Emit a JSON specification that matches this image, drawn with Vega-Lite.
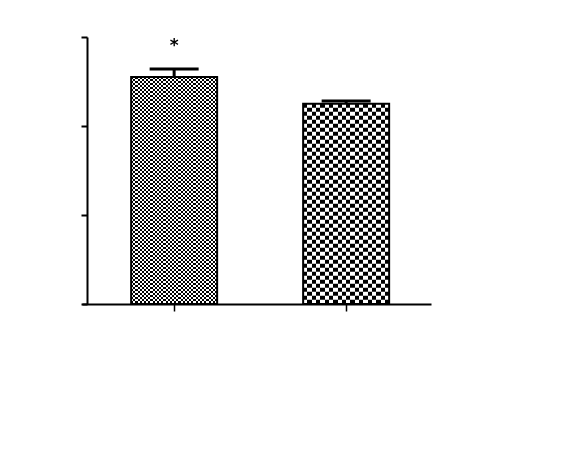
{
  "$schema": "https://vega.github.io/schema/vega-lite/v6.json",
  "autosize": {"type": "none"},
  "padding": {"left": 82, "top": 37, "right": 149, "bottom": 160},
  "width": 349,
  "height": 267,
  "background": "white",
  "data": {
    "values": [
      {"group": "A", "mean": 2.55, "upper": 2.64, "sig": "*"},
      {"group": "B", "mean": 2.25, "upper": 2.28, "sig": ""}
    ]
  },
  "encoding": {
    "x": {
      "field": "group", "type": "nominal", "title": null,
      "scale": {"paddingInner": 0.5, "paddingOuter": 0.2645, "align": 0.54},
      "axis": {"labels": false, "domainColor": "black", "domainWidth": 2, "tickColor": "black", "tickWidth": 1.5, "tickSize": 7}
    },
    "y": {
      "field": "mean", "type": "quantitative", "title": null,
      "scale": {"domain": [0, 3], "nice": false},
      "axis": {"values": [0, 1, 2, 3], "labels": false, "grid": false, "offset": -5, "domainColor": "black", "domainWidth": 2, "tickColor": "black", "tickWidth": 2, "tickSize": 6}
    }
  },
  "layer": [
    {
      "transform": [{"filter": "datum.group === 'A'"}],
      "mark": {"type": "rule", "color": "black", "strokeWidth": 86, "strokeDash": [2, 2]},
      "encoding": {"y2": {"datum": 0}}
    },
    {
      "transform": [{"filter": "datum.group === 'A'"}],
      "mark": {
        "type": "bar", "blend": "difference",
        "fill": {"gradient": "linear", "x1": 0, "y1": 0, "x2": 1, "y2": 0, "stops": [
          {"offset": 0, "color": "#000"},
          {"offset": 0.025, "color": "#000"}, {"offset": 0.025, "color": "#fff"},
          {"offset": 0.05, "color": "#fff"}, {"offset": 0.05, "color": "#000"},
          {"offset": 0.075, "color": "#000"}, {"offset": 0.075, "color": "#fff"},
          {"offset": 0.1, "color": "#fff"}, {"offset": 0.1, "color": "#000"},
          {"offset": 0.125, "color": "#000"}, {"offset": 0.125, "color": "#fff"},
          {"offset": 0.15, "color": "#fff"}, {"offset": 0.15, "color": "#000"},
          {"offset": 0.175, "color": "#000"}, {"offset": 0.175, "color": "#fff"},
          {"offset": 0.2, "color": "#fff"}, {"offset": 0.2, "color": "#000"},
          {"offset": 0.225, "color": "#000"}, {"offset": 0.225, "color": "#fff"},
          {"offset": 0.25, "color": "#fff"}, {"offset": 0.25, "color": "#000"},
          {"offset": 0.275, "color": "#000"}, {"offset": 0.275, "color": "#fff"},
          {"offset": 0.3, "color": "#fff"}, {"offset": 0.3, "color": "#000"},
          {"offset": 0.325, "color": "#000"}, {"offset": 0.325, "color": "#fff"},
          {"offset": 0.35, "color": "#fff"}, {"offset": 0.35, "color": "#000"},
          {"offset": 0.375, "color": "#000"}, {"offset": 0.375, "color": "#fff"},
          {"offset": 0.4, "color": "#fff"}, {"offset": 0.4, "color": "#000"},
          {"offset": 0.425, "color": "#000"}, {"offset": 0.425, "color": "#fff"},
          {"offset": 0.45, "color": "#fff"}, {"offset": 0.45, "color": "#000"},
          {"offset": 0.475, "color": "#000"}, {"offset": 0.475, "color": "#fff"},
          {"offset": 0.5, "color": "#fff"}, {"offset": 0.5, "color": "#000"},
          {"offset": 0.525, "color": "#000"}, {"offset": 0.525, "color": "#fff"},
          {"offset": 0.55, "color": "#fff"}, {"offset": 0.55, "color": "#000"},
          {"offset": 0.575, "color": "#000"}, {"offset": 0.575, "color": "#fff"},
          {"offset": 0.6, "color": "#fff"}, {"offset": 0.6, "color": "#000"},
          {"offset": 0.625, "color": "#000"}, {"offset": 0.625, "color": "#fff"},
          {"offset": 0.65, "color": "#fff"}, {"offset": 0.65, "color": "#000"},
          {"offset": 0.675, "color": "#000"}, {"offset": 0.675, "color": "#fff"},
          {"offset": 0.7, "color": "#fff"}, {"offset": 0.7, "color": "#000"},
          {"offset": 0.725, "color": "#000"}, {"offset": 0.725, "color": "#fff"},
          {"offset": 0.75, "color": "#fff"}, {"offset": 0.75, "color": "#000"},
          {"offset": 0.775, "color": "#000"}, {"offset": 0.775, "color": "#fff"},
          {"offset": 0.8, "color": "#fff"}, {"offset": 0.8, "color": "#000"},
          {"offset": 0.825, "color": "#000"}, {"offset": 0.825, "color": "#fff"},
          {"offset": 0.85, "color": "#fff"}, {"offset": 0.85, "color": "#000"},
          {"offset": 0.875, "color": "#000"}, {"offset": 0.875, "color": "#fff"},
          {"offset": 0.9, "color": "#fff"}, {"offset": 0.9, "color": "#000"},
          {"offset": 0.925, "color": "#000"}, {"offset": 0.925, "color": "#fff"},
          {"offset": 0.95, "color": "#fff"}, {"offset": 0.95, "color": "#000"},
          {"offset": 0.975, "color": "#000"}, {"offset": 0.975, "color": "#fff"},
          {"offset": 1, "color": "#fff"}
        ]}
      }
    },
    {
      "transform": [{"filter": "datum.group === 'B'"}],
      "mark": {"type": "rule", "color": "black", "strokeWidth": 86, "strokeDash": [4, 4]},
      "encoding": {"y2": {"datum": 0}}
    },
    {
      "transform": [{"filter": "datum.group === 'B'"}],
      "mark": {
        "type": "bar", "blend": "difference",
        "fill": {"gradient": "linear", "x1": 0, "y1": 0, "x2": 1, "y2": 0, "stops": [
          {"offset": 0, "color": "#000"},
          {"offset": 0.05, "color": "#000"}, {"offset": 0.05, "color": "#fff"},
          {"offset": 0.1, "color": "#fff"}, {"offset": 0.1, "color": "#000"},
          {"offset": 0.15, "color": "#000"}, {"offset": 0.15, "color": "#fff"},
          {"offset": 0.2, "color": "#fff"}, {"offset": 0.2, "color": "#000"},
          {"offset": 0.25, "color": "#000"}, {"offset": 0.25, "color": "#fff"},
          {"offset": 0.3, "color": "#fff"}, {"offset": 0.3, "color": "#000"},
          {"offset": 0.35, "color": "#000"}, {"offset": 0.35, "color": "#fff"},
          {"offset": 0.4, "color": "#fff"}, {"offset": 0.4, "color": "#000"},
          {"offset": 0.45, "color": "#000"}, {"offset": 0.45, "color": "#fff"},
          {"offset": 0.5, "color": "#fff"}, {"offset": 0.5, "color": "#000"},
          {"offset": 0.55, "color": "#000"}, {"offset": 0.55, "color": "#fff"},
          {"offset": 0.6, "color": "#fff"}, {"offset": 0.6, "color": "#000"},
          {"offset": 0.65, "color": "#000"}, {"offset": 0.65, "color": "#fff"},
          {"offset": 0.7, "color": "#fff"}, {"offset": 0.7, "color": "#000"},
          {"offset": 0.75, "color": "#000"}, {"offset": 0.75, "color": "#fff"},
          {"offset": 0.8, "color": "#fff"}, {"offset": 0.8, "color": "#000"},
          {"offset": 0.85, "color": "#000"}, {"offset": 0.85, "color": "#fff"},
          {"offset": 0.9, "color": "#fff"}, {"offset": 0.9, "color": "#000"},
          {"offset": 0.95, "color": "#000"}, {"offset": 0.95, "color": "#fff"},
          {"offset": 1, "color": "#fff"}
        ]}
      }
    },
    {
      "mark": {"type": "bar", "filled": false, "color": "black", "strokeWidth": 2}
    },
    {
      "mark": {"type": "rule", "color": "black", "strokeWidth": 3},
      "encoding": {"y2": {"field": "upper"}}
    },
    {
      "mark": {"type": "tick", "color": "black", "opacity": 1, "size": 49, "thickness": 3},
      "encoding": {"y": {"field": "upper", "type": "quantitative"}}
    },
    {
      "mark": {"type": "text", "color": "black", "fontSize": 17, "fontWeight": "bold", "font": "DejaVu Sans", "baseline": "middle", "dy": -23},
      "encoding": {
        "y": {"field": "upper", "type": "quantitative"},
        "text": {"field": "sig"}
      }
    }
  ],
  "config": {
    "view": {"stroke": null}
  }
}
